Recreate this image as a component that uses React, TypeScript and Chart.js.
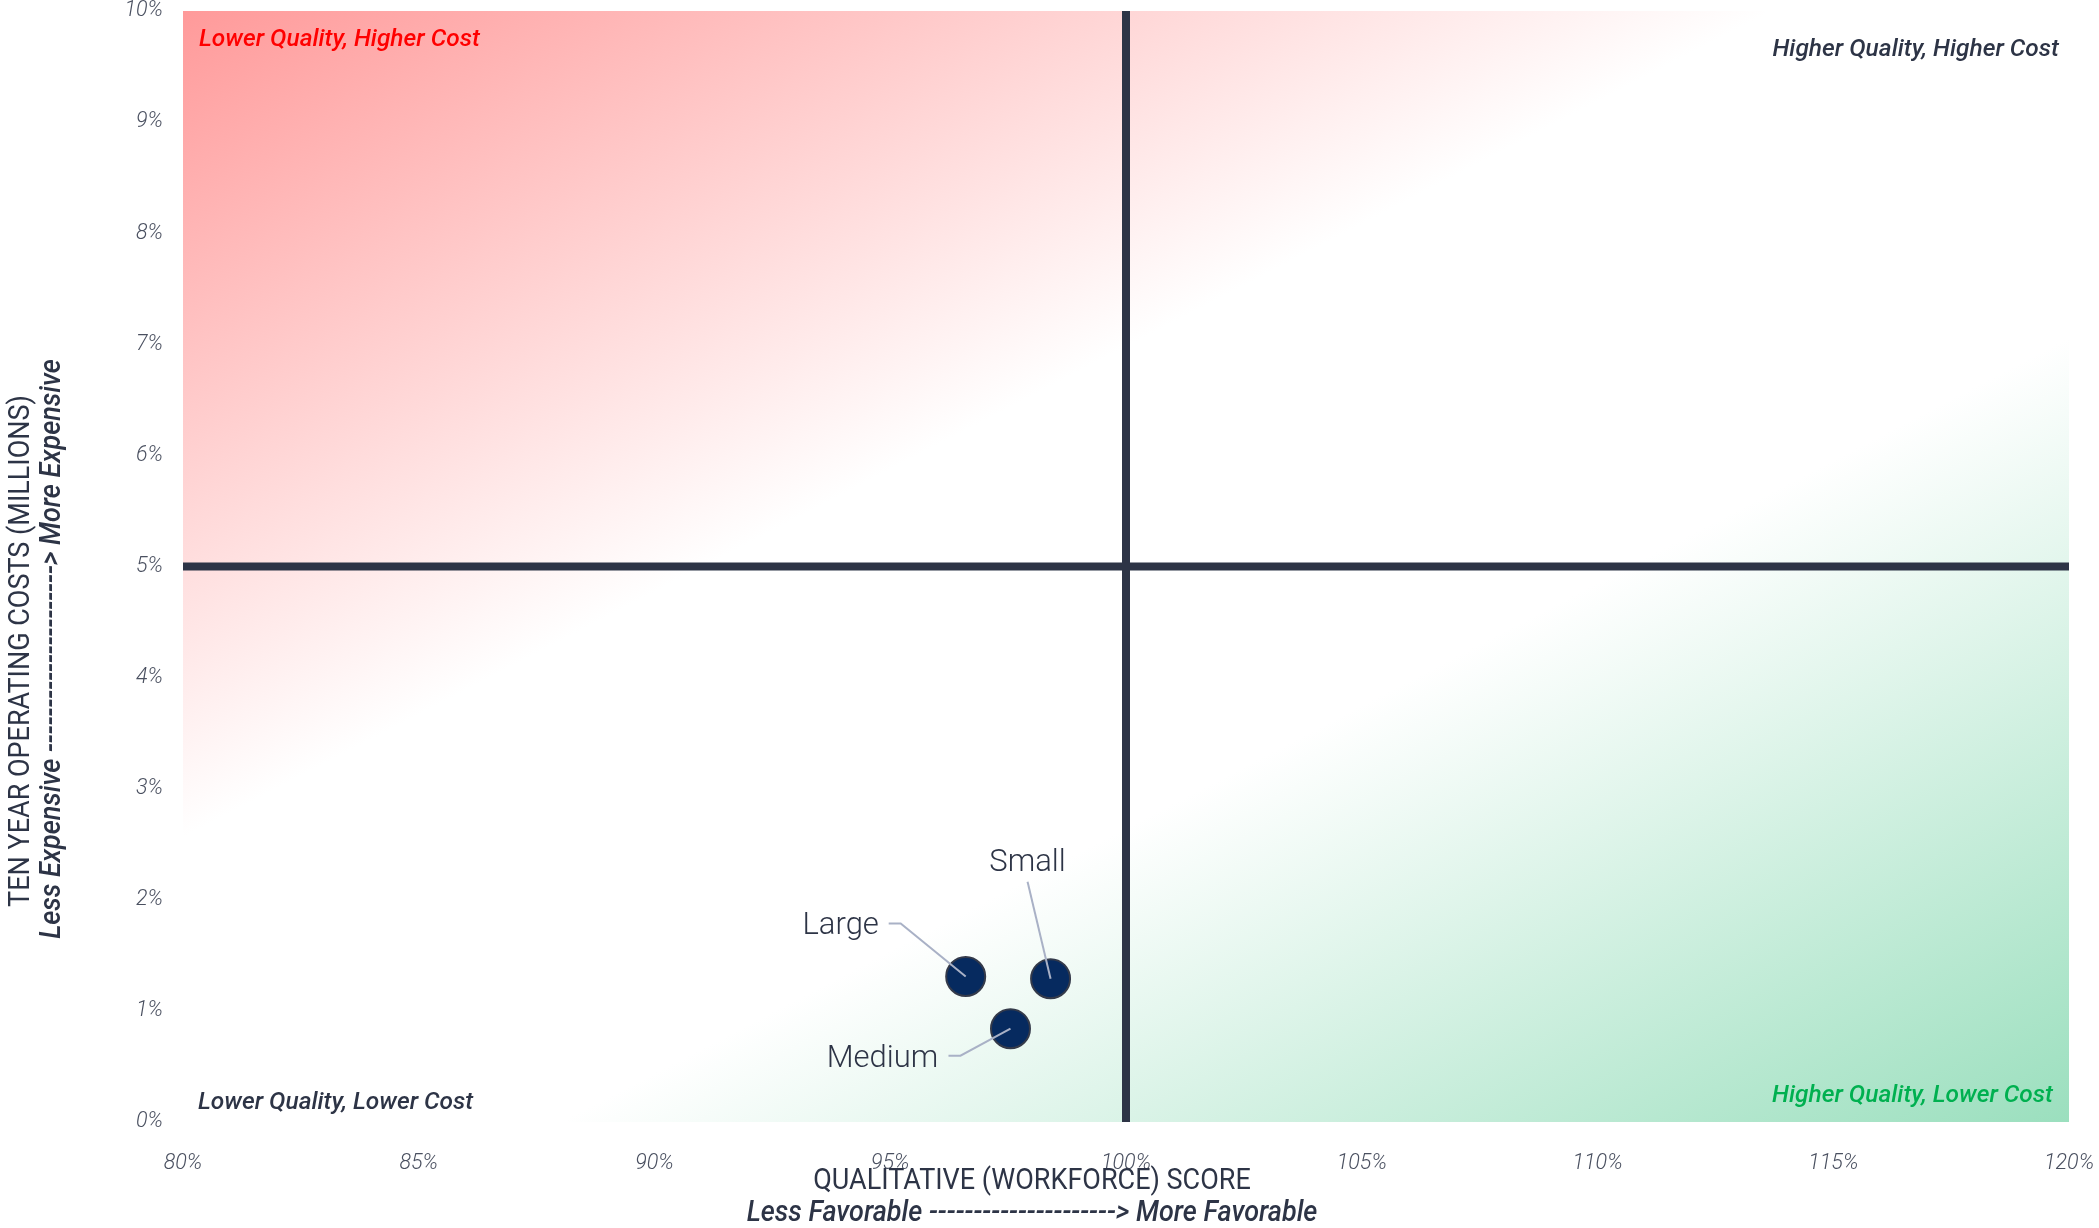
import React, { useEffect, useRef } from 'react';
import { Chart, registerables } from 'chart.js';

Chart.register(...registerables);

// ---- Data ----
const pointLabels = ['Large', 'Small', 'Medium'];
const qualityScores = [96.6, 98.4, 97.55]; // x, %
const operatingCosts = [1.31, 1.29, 0.84]; // y, %

const xTickValues = [80, 85, 90, 95, 100, 105, 110, 115, 120];
const yTickValues = [0, 1, 2, 3, 4, 5, 6, 7, 8, 9, 10];
const quadrantDividerX = 100;
const quadrantDividerY = 5;

const quadrantLabels = [
  'Lower Quality, Higher Cost',
  'Higher Quality, Higher Cost',
  'Lower Quality, Lower Cost',
  'Higher Quality, Lower Cost',
];
const xTitle = 'QUALITATIVE (WORKFORCE) SCORE';
const xSubtitle = 'Less Favorable ' + '-'.repeat(21) + '> More Favorable';
const yTitle = 'TEN YEAR OPERATING COSTS (MILLIONS)';
const ySubtitle = 'Less Expensive ' + '-'.repeat(21) + '> More Expensive';

// ---- Styling / label layout (pixel offsets relative to each point) ----
const labelLayout = [
  { dx: -125, dy: -50, leader: [[-77, -53], [-65, -53], [0, 0]] },
  { dx: -23, dy: -115, leader: [[-23, -97], [0, 0]] },
  { dx: -128, dy: 31, leader: [[-62, 27], [-50, 27], [0, 0]] },
];

const DARK = '#2d3446';
const TICK = '#4a5060';
const CONDENSE = 0.9;

function condensedText(ctx: any, text: string, x: number, y: number, rotate: boolean) {
  ctx.save();
  ctx.translate(x, y);
  if (rotate) ctx.rotate(-Math.PI / 2);
  ctx.scale(CONDENSE, 1);
  ctx.fillText(text, 0, 0);
  ctx.restore();
}

const quadrantPlugin = {
  id: 'quadrantPlugin',
  beforeDatasetsDraw(chart: any) {
    const { ctx, chartArea: a, scales } = chart;
    const W = a.right - a.left;
    const H = a.bottom - a.top;
    const gx = 0.52;
    const gy = 1;
    const s = (W * gx + H * gy) / (gx * gx + gy * gy);
    const g = ctx.createLinearGradient(a.left, a.top, a.left + gx * s, a.top + gy * s);
    g.addColorStop(0, 'rgb(255,154,154)');
    g.addColorStop(0.395, 'rgb(255,255,255)');
    g.addColorStop(0.625, 'rgb(255,255,255)');
    g.addColorStop(1, 'rgb(155,223,190)');
    ctx.save();
    ctx.fillStyle = g;
    ctx.fillRect(a.left, a.top, W, H);

    const xm = scales.x.getPixelForValue(quadrantDividerX);
    const ym = scales.y.getPixelForValue(quadrantDividerY);
    ctx.strokeStyle = DARK;
    ctx.lineWidth = 8;
    ctx.beginPath();
    ctx.moveTo(a.left, ym);
    ctx.lineTo(a.right, ym);
    ctx.moveTo(xm, a.top);
    ctx.lineTo(xm, a.bottom);
    ctx.stroke();

    ctx.font = 'italic 500 24.5px Roboto';
    ctx.textBaseline = 'middle';
    ctx.textAlign = 'left';
    ctx.fillStyle = '#ff0000';
    ctx.fillText(quadrantLabels[0], a.left + 16, a.top + 29);
    ctx.textAlign = 'right';
    ctx.fillStyle = DARK;
    ctx.fillText(quadrantLabels[1], a.right - 10, a.top + 39);
    ctx.textAlign = 'left';
    ctx.fillStyle = DARK;
    ctx.fillText(quadrantLabels[2], a.left + 15, a.bottom - 19);
    ctx.textAlign = 'right';
    ctx.fillStyle = '#00b050';
    ctx.fillText(quadrantLabels[3], a.right - 16, a.bottom - 26);
    ctx.restore();
  },
  afterDatasetsDraw(chart: any) {
    const { ctx } = chart;
    const meta = chart.getDatasetMeta(0);
    ctx.save();
    meta.data.forEach((pt: any, i: number) => {
      const L = labelLayout[i];
      ctx.strokeStyle = '#a9b1c6';
      ctx.lineWidth = 2;
      ctx.beginPath();
      L.leader.forEach(([lx, ly], k) => {
        if (k === 0) ctx.moveTo(pt.x + lx, pt.y + ly);
        else ctx.lineTo(pt.x + lx, pt.y + ly);
      });
      ctx.stroke();
      ctx.font = '300 31px Roboto';
      ctx.fillStyle = DARK;
      ctx.textAlign = 'center';
      ctx.textBaseline = 'middle';
      ctx.fillText(pointLabels[i], pt.x + L.dx, pt.y + L.dy);
    });
    ctx.restore();
  },
  afterDraw(chart: any) {
    const { ctx } = chart;
    ctx.save();
    ctx.fillStyle = DARK;
    ctx.textAlign = 'center';
    ctx.textBaseline = 'middle';
    ctx.font = '400 30px Roboto';
    condensedText(ctx, xTitle, 1032, 1181, false);
    condensedText(ctx, yTitle, 21, 651, true);
    ctx.font = 'italic 500 30px Roboto';
    condensedText(ctx, xSubtitle, 1032, 1213, false);
    condensedText(ctx, ySubtitle, 52, 649, true);
    ctx.restore();
  },
};

function zeroPadding(scale: any) {
  scale.paddingTop = 0;
  scale.paddingBottom = 0;
  scale.paddingLeft = 0;
  scale.paddingRight = 0;
}

export default function App() {
  const canvasRef = useRef<HTMLCanvasElement | null>(null);

  useEffect(() => {
    if (!canvasRef.current) return;
    const chart = new Chart(canvasRef.current, {
      type: 'scatter',
      data: {
        datasets: [
          {
            data: qualityScores.map((x, i) => ({ x, y: operatingCosts[i] })),
            backgroundColor: '#062a5f',
            borderColor: '#343a4a',
            borderWidth: 2,
            pointRadius: 19.5,
            pointHoverRadius: 19.5,
          },
        ],
      },
      options: {
        animation: false,
        responsive: true,
        maintainAspectRatio: false,
        layout: { autoPadding: false, padding: { top: 11, right: 30, left: 0, bottom: 0 } },
        plugins: { legend: { display: false }, tooltip: { enabled: false } },
        scales: {
          x: {
            type: 'linear',
            min: xTickValues[0],
            max: xTickValues[xTickValues.length - 1],
            afterBuildTicks: (scale: any) => {
              scale.ticks = xTickValues.map((v) => ({ value: v }));
            },
            afterFit: (scale: any) => {
              scale.height = 106;
              zeroPadding(scale);
            },
            grid: { display: false, drawTicks: false },
            border: { display: false },
            ticks: {
              padding: 29,
              color: TICK,
              font: { family: 'Roboto', size: 21.5, style: 'italic', weight: '300', lineHeight: 1.2 },
              callback: (v: any) => `${v}%`,
            },
          },
          y: {
            type: 'linear',
            min: yTickValues[0],
            max: yTickValues[yTickValues.length - 1],
            afterBuildTicks: (scale: any) => {
              scale.ticks = yTickValues.map((v) => ({ value: v }));
            },
            afterFit: (scale: any) => {
              scale.width = 183;
              zeroPadding(scale);
            },
            grid: { display: false, drawTicks: false },
            border: { display: false },
            ticks: {
              padding: 20,
              color: TICK,
              font: { family: 'Roboto', size: 21.5, style: 'italic', weight: '300', lineHeight: 1 },
              callback: (v: any) => `${v}%`,
            },
          },
        },
      },
      plugins: [quadrantPlugin],
    });
    return () => chart.destroy();
  }, []);

  return (
    <div style={{ position: 'fixed', left: 0, top: 0, width: 2099, height: 1228 }}>
      <canvas ref={canvasRef} />
    </div>
  );
}
